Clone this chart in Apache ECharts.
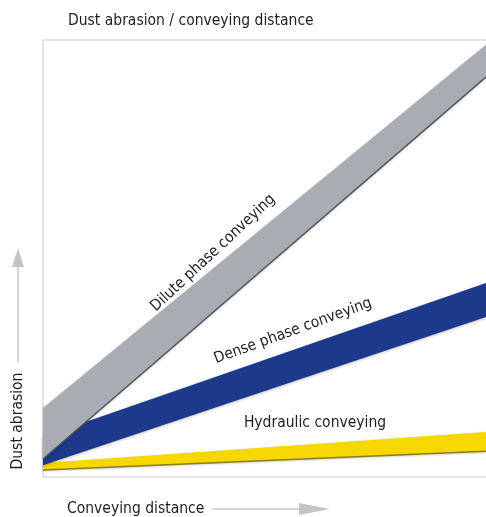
<!DOCTYPE html>
<html>
<head>
<meta charset="utf-8">
<script src="https://cdn.jsdelivr.net/npm/echarts@6/dist/echarts.min.js"></script>
<style>
  html, body { margin: 0; padding: 0; background: #fff; }
  #chart { width: 486px; height: 517px; }
</style>
</head>
<body>
<div id="chart"></div>
<script>
// Relative scale: conveying distance (x) against dust abrasion (y), both 0–100.
const distance = [0, 100];

// Lower and upper edge of each band at the start and end of the distance axis.
const diluteLow = [4.1, 91.5];
const diluteHigh = [15.8, 98.9];
const denseLow = [2.7, 36.6];
const denseHigh = [9.2, 44.4];
const hydraulicLow = [1.6, 5.9];
const hydraulicHigh = [3.2, 10.3];

const bandNames = ['Dilute phase conveying', 'Dense phase conveying', 'Hydraulic conveying'];

const FONT = "'Liberation Sans Narrow', 'DejaVu Sans Condensed', 'Roboto', sans-serif";
const TEXT = '#1e1e1e';

function bandSeries(name, low, high, color, z, edgeColor) {
  return {
    type: 'custom',
    name: name,
    z: z,
    silent: true,
    data: distance.map((x, i) => [x, low[i], high[i]]),
    renderItem: function (params, api) {
      if (params.dataIndex !== 0) return;
      const upper = distance.map((x, i) => api.coord([x, high[i]]));
      const lower = distance.map((x, i) => api.coord([x, low[i]])).reverse();
      const children = [{
        type: 'polygon',
        shape: { points: upper.concat(lower) },
        style: {
          fill: color,
          shadowBlur: 3,
          shadowColor: 'rgba(0,0,0,0.25)',
          shadowOffsetY: 1
        }
      }];
      if (edgeColor) {
        const edge = distance.map((x, i) => api.coord([x, low[i]]));
        children.push({
          type: 'polyline',
          shape: { points: edge },
          style: { stroke: edgeColor, lineWidth: 1.4, fill: null }
        });
      }
      return { type: 'group', children: children };
    }
  };
}

const chart = echarts.init(document.getElementById('chart'), null, { renderer: 'canvas' });

// open frame: top, left and bottom edges of the plot
const frameStyle = { stroke: '#dcdcdc', lineWidth: 1.5 };

chart.setOption({
  backgroundColor: '#ffffff',
  animation: false,
  title: {
    text: 'Dust abrasion / conveying distance',
    left: 63,
    top: 8,
    textStyle: { fontFamily: FONT, fontSize: 15.5, fontWeight: 'normal', color: TEXT }
  },
  grid: { left: 43, top: 40, right: 0, bottom: 40, show: false },
  xAxis: { type: 'value', min: 0, max: 100, show: false },
  yAxis: { type: 'value', min: 0, max: 100, show: false },
  series: [
    bandSeries(bandNames[2], hydraulicLow, hydraulicHigh, '#f6d800', 2, '#8c7d1e'),
    bandSeries(bandNames[1], denseLow, denseHigh, '#1c398b', 3, null),
    bandSeries(bandNames[0], diluteLow, diluteHigh, '#a8adb3', 4, '#4d5358')
  ],
  graphic: [
    { type: 'line', z: 0, shape: { x1: 43, y1: 40, x2: 486, y2: 40 }, style: frameStyle },
    { type: 'line', z: 0, shape: { x1: 43, y1: 40, x2: 43, y2: 477 }, style: frameStyle },
    { type: 'line', z: 0, shape: { x1: 43, y1: 477, x2: 486, y2: 477 }, style: frameStyle },
    // band captions
    { type: 'text', x: 213, y: 253, rotation: 43 * Math.PI / 180, z: 10,
      style: { text: bandNames[0], font: '15.5px ' + FONT, fill: TEXT, textAlign: 'center', textVerticalAlign: 'middle' } },
    { type: 'text', x: 293, y: 331, rotation: 20 * Math.PI / 180, z: 10,
      style: { text: bandNames[1], font: '15.5px ' + FONT, fill: TEXT, textAlign: 'center', textVerticalAlign: 'middle' } },
    { type: 'text', x: 315, y: 423, z: 10,
      style: { text: bandNames[2], font: '15.5px ' + FONT, fill: TEXT, textAlign: 'center', textVerticalAlign: 'middle' } },
    // y axis caption and arrow
    { type: 'text', x: 18, y: 421, rotation: Math.PI / 2, z: 10,
      style: { text: 'Dust abrasion', font: '15.5px ' + FONT, fill: TEXT, textAlign: 'center', textVerticalAlign: 'middle' } },
    { type: 'line', z: 10, shape: { x1: 18, y1: 362, x2: 18, y2: 266 }, style: { stroke: '#c8c8c8', lineWidth: 1.5 } },
    { type: 'polygon', z: 10, shape: { points: [[12, 267], [24, 267], [18, 248]] }, style: { fill: '#c4c4c4' } },
    // x axis caption and arrow
    { type: 'text', x: 67, y: 509, z: 10,
      style: { text: 'Conveying distance', font: '15.5px ' + FONT, fill: TEXT, textAlign: 'left', textVerticalAlign: 'middle' } },
    { type: 'line', z: 10, shape: { x1: 212, y1: 509, x2: 300, y2: 509 }, style: { stroke: '#c8c8c8', lineWidth: 1.5 } },
    { type: 'polygon', z: 10, shape: { points: [[299, 503], [299, 515], [330, 509]] }, style: { fill: '#c4c4c4' } }
  ]
});
</script>
</body>
</html>
